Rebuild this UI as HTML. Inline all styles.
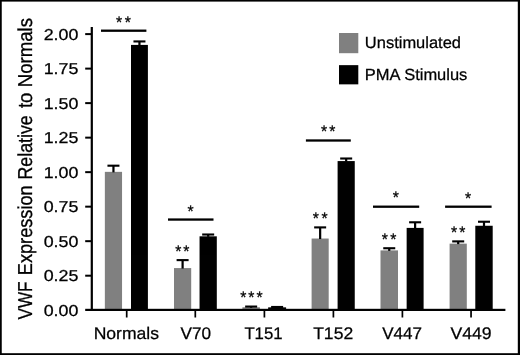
<!DOCTYPE html>
<html><head><meta charset="utf-8"><title>chart</title>
<style>html,body{margin:0;padding:0;background:#fff}svg{display:block;will-change:transform;opacity:0.999}text{font-family:"Liberation Sans",sans-serif;fill:#000;text-rendering:geometricPrecision;stroke:#000;stroke-width:0.25px}</style>
</head><body>
<svg width="520" height="355" viewBox="0 0 520 355">
<rect x="0" y="0" width="520" height="355" fill="#fff"/>
<rect x="0" y="0" width="520" height="1.6" fill="#000"/>
<rect x="0" y="353.2" width="520" height="1.8" fill="#000"/>
<rect x="0" y="0" width="1.75" height="355" fill="#000"/>
<rect x="517.8" y="0" width="2.2" height="355" fill="#000"/>
<rect x="104.85" y="171.85" width="17.20" height="138.05" fill="#808080"/>
<rect x="112.35" y="165.64" width="2.2" height="6.71" fill="#000"/>
<rect x="107.45" y="164.64" width="12.0" height="2.1" fill="#000"/>
<rect x="131.00" y="44.91" width="16.90" height="264.99" fill="#000"/>
<rect x="138.35" y="41.39" width="2.2" height="4.02" fill="#000"/>
<rect x="133.45" y="40.39" width="12.0" height="2.1" fill="#000"/>
<rect x="174.00" y="268.07" width="17.20" height="41.83" fill="#808080"/>
<rect x="181.50" y="260.06" width="2.2" height="8.51" fill="#000"/>
<rect x="176.60" y="259.06" width="12.0" height="2.1" fill="#000"/>
<rect x="199.55" y="236.32" width="17.25" height="73.58" fill="#000"/>
<rect x="207.08" y="234.46" width="2.2" height="2.36" fill="#000"/>
<rect x="202.18" y="233.46" width="12.0" height="2.1" fill="#000"/>
<rect x="242.40" y="307.28" width="17.50" height="2.62" fill="#808080"/>
<rect x="250.05" y="306.52" width="2.2" height="1.26" fill="#000"/>
<rect x="245.15" y="305.52" width="12.0" height="2.1" fill="#000"/>
<rect x="268.15" y="307.35" width="17.95" height="2.55" fill="#000"/>
<rect x="276.02" y="306.93" width="2.2" height="0.91" fill="#000"/>
<rect x="271.12" y="305.93" width="12.0" height="2.1" fill="#000"/>
<rect x="311.60" y="238.53" width="17.10" height="71.37" fill="#808080"/>
<rect x="319.05" y="227.35" width="2.2" height="11.68" fill="#000"/>
<rect x="314.15" y="226.35" width="12.0" height="2.1" fill="#000"/>
<rect x="337.60" y="161.08" width="17.15" height="148.82" fill="#000"/>
<rect x="345.07" y="158.46" width="2.2" height="3.12" fill="#000"/>
<rect x="340.18" y="157.46" width="12.0" height="2.1" fill="#000"/>
<rect x="380.50" y="250.40" width="17.50" height="59.50" fill="#808080"/>
<rect x="388.15" y="248.19" width="2.2" height="2.71" fill="#000"/>
<rect x="383.25" y="247.19" width="12.0" height="2.1" fill="#000"/>
<rect x="406.65" y="227.90" width="16.95" height="82.00" fill="#000"/>
<rect x="414.02" y="222.24" width="2.2" height="6.16" fill="#000"/>
<rect x="409.12" y="221.24" width="12.0" height="2.1" fill="#000"/>
<rect x="449.60" y="243.64" width="17.20" height="66.26" fill="#808080"/>
<rect x="457.10" y="241.34" width="2.2" height="2.79" fill="#000"/>
<rect x="452.20" y="240.34" width="12.0" height="2.1" fill="#000"/>
<rect x="475.30" y="225.76" width="17.40" height="84.14" fill="#000"/>
<rect x="482.90" y="221.69" width="2.2" height="4.57" fill="#000"/>
<rect x="478.00" y="220.69" width="12.0" height="2.1" fill="#000"/>
<rect x="90.7" y="27" width="2.2" height="284.0" fill="#000"/>
<rect x="85.2" y="308.8" width="420.2" height="2.2" fill="#000"/>
<text transform="translate(43.69,315.65) scale(1.13,1)" font-size="15.8">0.00</text>
<rect x="85.2" y="274.69" width="6" height="2.0" fill="#000"/>
<text transform="translate(43.69,281.14) scale(1.13,1)" font-size="15.8">0.25</text>
<rect x="85.2" y="240.17" width="6" height="2.0" fill="#000"/>
<text transform="translate(43.69,246.62) scale(1.13,1)" font-size="15.8">0.50</text>
<rect x="85.2" y="205.66" width="6" height="2.0" fill="#000"/>
<text transform="translate(43.69,212.11) scale(1.13,1)" font-size="15.8">0.75</text>
<rect x="85.2" y="171.15" width="6" height="2.0" fill="#000"/>
<text transform="translate(43.69,177.60) scale(1.13,1)" font-size="15.8">1.00</text>
<rect x="85.2" y="136.64" width="6" height="2.0" fill="#000"/>
<text transform="translate(43.69,143.09) scale(1.13,1)" font-size="15.8">1.25</text>
<rect x="85.2" y="102.12" width="6" height="2.0" fill="#000"/>
<text transform="translate(43.69,108.57) scale(1.13,1)" font-size="15.8">1.50</text>
<rect x="85.2" y="67.61" width="6" height="2.0" fill="#000"/>
<text transform="translate(43.69,74.06) scale(1.13,1)" font-size="15.8">1.75</text>
<rect x="85.2" y="33.10" width="6" height="2.0" fill="#000"/>
<text transform="translate(43.69,39.55) scale(1.13,1)" font-size="15.8">2.00</text>
<rect x="125.85" y="309.9" width="1.7" height="7.6" fill="#000"/>
<text transform="translate(93.64,338.9) scale(1.0398,1)" font-size="16.9">Normals</text>
<rect x="194.45" y="309.9" width="1.7" height="7.6" fill="#000"/>
<text transform="translate(180.61,338.9) scale(1.0163,1)" font-size="16.9">V70</text>
<rect x="263.55" y="309.9" width="1.7" height="7.6" fill="#000"/>
<text transform="translate(244.38,338.9) scale(0.9929,1)" font-size="16.9">T151</text>
<rect x="332.55" y="309.9" width="1.7" height="7.6" fill="#000"/>
<text transform="translate(313.16,338.9) scale(1.0385,1)" font-size="16.9">T152</text>
<rect x="401.55" y="309.9" width="1.7" height="7.6" fill="#000"/>
<text transform="translate(382.21,338.9) scale(1.0096,1)" font-size="16.9">V447</text>
<rect x="470.20" y="309.9" width="1.7" height="7.6" fill="#000"/>
<text transform="translate(450.51,338.9) scale(1.0433,1)" font-size="16.9">V449</text>
<text transform="translate(31.90,319.49) rotate(-90) scale(1.0661,1.2586)" font-size="16.0">VWF</text>
<text transform="translate(31.90,275.15) rotate(-90) scale(1.1341,1.2586)" font-size="16.0">Expression</text>
<text transform="translate(31.90,179.52) rotate(-90) scale(1.1103,1.2586)" font-size="16.0">Relative</text>
<text transform="translate(31.90,108.08) rotate(-90) scale(1.1532,1.2586)" font-size="16.0">to</text>
<text transform="translate(31.90,87.29) rotate(-90) scale(1.1633,1.2586)" font-size="16.0">Normals</text>
<rect x="339.0" y="33" width="19.3" height="20.2" fill="#808080"/>
<rect x="339.0" y="65.15" width="19.3" height="19.2" fill="#000"/>
<text transform="translate(364.87,47.99) scale(1.0289,1.0077)" font-size="16.0">Unstimulated</text>
<text transform="translate(364.78,79.89) scale(1.0299,1.0077)" font-size="16.0">PMA Stimulus</text>
<rect x="101" y="29.55" width="45.4" height="2.3" fill="#000"/>
<text transform="translate(116.06,28.03) scale(0.9859,1.0536)" font-size="16.0" stroke="#000" stroke-width="0.4">*</text>
<text transform="translate(124.66,28.03) scale(0.9859,1.0536)" font-size="16.0" stroke="#000" stroke-width="0.4">*</text>
<rect x="168" y="218.40" width="45.5" height="2.3" fill="#000"/>
<text transform="translate(187.56,216.83) scale(0.9859,1.0536)" font-size="16.0" stroke="#000" stroke-width="0.4">*</text>
<rect x="305.9" y="139.35" width="44.9" height="2.3" fill="#000"/>
<text transform="translate(321.06,136.93) scale(0.9859,1.0536)" font-size="16.0" stroke="#000" stroke-width="0.4">*</text>
<text transform="translate(329.26,136.93) scale(0.9859,1.0536)" font-size="16.0" stroke="#000" stroke-width="0.4">*</text>
<rect x="373" y="205.55" width="46.2" height="2.3" fill="#000"/>
<text transform="translate(392.81,203.43) scale(0.9859,1.0536)" font-size="16.0" stroke="#000" stroke-width="0.4">*</text>
<rect x="445.1" y="205.55" width="46.5" height="2.3" fill="#000"/>
<text transform="translate(465.06,203.53) scale(0.9859,1.0536)" font-size="16.0" stroke="#000" stroke-width="0.4">*</text>
<text transform="translate(175.19,256.53) scale(0.9859,1.0536)" font-size="16.0" stroke="#000" stroke-width="0.4">*</text>
<text transform="translate(183.34,256.53) scale(0.9859,1.0536)" font-size="16.0" stroke="#000" stroke-width="0.4">*</text>
<text transform="translate(240.26,302.93) scale(0.9859,1.0536)" font-size="16.0" stroke="#000" stroke-width="0.4">*</text>
<text transform="translate(248.36,302.93) scale(0.9859,1.0536)" font-size="16.0" stroke="#000" stroke-width="0.4">*</text>
<text transform="translate(256.46,302.93) scale(0.9859,1.0536)" font-size="16.0" stroke="#000" stroke-width="0.4">*</text>
<text transform="translate(312.69,223.88) scale(0.9859,1.0536)" font-size="16.0" stroke="#000" stroke-width="0.4">*</text>
<text transform="translate(321.54,223.88) scale(0.9859,1.0536)" font-size="16.0" stroke="#000" stroke-width="0.4">*</text>
<text transform="translate(381.84,244.98) scale(0.9859,1.0536)" font-size="16.0" stroke="#000" stroke-width="0.4">*</text>
<text transform="translate(390.29,244.98) scale(0.9859,1.0536)" font-size="16.0" stroke="#000" stroke-width="0.4">*</text>
<text transform="translate(450.91,237.93) scale(0.9859,1.0536)" font-size="16.0" stroke="#000" stroke-width="0.4">*</text>
<text transform="translate(459.21,237.93) scale(0.9859,1.0536)" font-size="16.0" stroke="#000" stroke-width="0.4">*</text>
</svg></body></html>
